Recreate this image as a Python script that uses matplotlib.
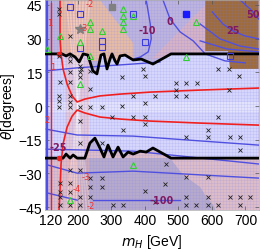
import numpy as np
import matplotlib.pyplot as plt

# axis ranges / ticks
m_lim = (102, 739)
theta_lim = (-46.3, 47.2)
m_ticks = [120, 200, 300, 400, 500, 600, 700]
theta_ticks = [-45, -30, -15, 0, 15, 30, 45]

# black boundaries (upper and lower)
top_bound_m = [102, 153, 165, 177, 192, 204, 216, 230, 245, 257, 269, 278, 287, 296,
               302, 311, 317, 326, 341, 365, 389, 424, 478, 739]
top_bound_t = [23.2, 23.2, 22.3, 23.2, 21.8, 19.6, 23.2, 22.7, 15.6, 14.3, 22.7, 23.2, 16.5, 20.9,
               23.2, 20.1, 18.7, 22.3, 22.7, 20.5, 20.9, 18.7, 23.2, 23.2]
bot_bound_m = [102, 156, 165, 177, 186, 198, 221, 236, 251, 266, 278, 290, 305, 320,
               335, 350, 365, 386, 404, 424, 478, 739]
bot_bound_t = [-23.2, -23.2, -21.4, -23.2, -21.8, -23.2, -23.2, -16.5, -14.3, -18.7, -22.7, -17.4,
               -22.7, -18.3, -22.7, -20.5, -21.4, -20.1, -20.5, -18.7, -23.2, -23.2]

# shaded regions
peach_top_m = [147, 266, 365, 365, 147]
peach_top_t = [47.2, 47.2, 28.0, 20.0, 20.0]
pink_wedge_m = [420, 580, 580]
pink_wedge_t = [21.0, 24.0, 45.0]
brown_m = [580, 739, 739, 654, 648, 580]
brown_t = [47.2, 47.2, 16.5, 16.5, 24.5, 24.5]
grey_bot_m = [198, 475, 514, 565, 580, 604, 610, 198]
grey_bot_t = [-23.2, -23.2, -30.7, -36.1, -39.7, -44.1, -46.3, -46.3]
fan_end_m = [165, 175, 186, 196, 206, 216, 226, 236]

# red contours
red_up_m = [147, 147, 147, 150, 156, 168, 183, 198, 221, 266, 326, 416, 565, 739]
red_up_t = [47.2, 38.8, 29.9, 23.2, 16.5, 9.8, 4.5, 1.8, 3.1, 4.5, 5.3, 6.2, 7.1, 8.0]
red_lo_m = [144, 147, 150, 156, 168, 183, 198, 221, 266, 326, 416, 565, 739]
red_lo_t = [-46.3, -37.0, -25.8, -16.9, -9.4, -4.5, -1.8, -3.1, -4.9, -5.8, -6.7, -7.6, -8.5]
red_vert_m = [119, 119]
red_vert_t = [46.0, -46.3]
red_dot_m = [144, 144]
red_dot_t = [23.2, -23.2]

# blue contours
blue_lines = [
    ([102, 198, 365, 445], [15.6, 17.0, 18.7, 19.6]),
    ([102, 198, 365, 739], [-10.2, -12.9, -13.4, -17.4]),
    ([102, 365, 739], [-19.2, -20.1, -25.8]),
    ([111, 198, 365, 739], [-26.3, -29.9, -29.0, -32.1]),
    ([111, 198], [-38.8, -41.9]),
    ([245, 505], [-41.9, -41.9]),
    ([404, 416, 419, 410, 386, 365], [47.2, 36.5, 29.9, 24.1, 21.8, 20.9]),
    ([454, 475, 505, 544, 580, 639, 699], [47.2, 38.8, 33.0, 29.0, 23.2, 20.1, 19.2]),
    ([601, 633, 663, 699, 739], [41.9, 36.5, 33.4, 31.2, 29.9]),
    ([565, 624, 684, 739], [36.5, 29.9, 26.7, 25.4]),
    ([565, 645, 739], [29.0, 25.4, 24.1]),
    ([684, 714, 739], [47.2, 43.2, 38.8]),
]
blue_edge_m = [108, 108]
blue_edge_t = [47.2, -46.3]

# scan points
cross_m = [144, 144, 177, 144, 177, 177, 207, 177, 207, 236, 207, 332, 147, 177, 210, 236,
           144, 177, 144, 177, 144, 177, 207, 236, 272, 332, 302, 207, 395, 401, 618, 651,
           681, 493, 523, 556, 493, 651, 365, 430, 493, 523, 401, 365, 401, 618, 401, 335,
           589, 523, 589, 654, 684, 684, 207, 272, 463, 177, 207, 523, 589, 236, 272, 147,
           177, 460, 236, 272, 401, 147, 177, 147, 207, 236, 523, 589, 654, 684, 714, 430,
           147, 177, 207, 305, 335, 523, 553, 589, 618, 684]
cross_t = [43.2, 41.0, 31.2, 22.3, 22.3, 20.1, 17.8, 15.2, 15.2, 15.6, 12.9, 12.9, 10.7, 10.7, 16.5, 7.6,
           4.5, 4.5, 2.2, 1.8, -0.4, -0.4, -0.4, -0.4, -0.4, 0.0, -4.9, -6.7, 16.5, 13.4, 16.5, 16.5,
           13.4, 10.2, 10.2, 10.2, 7.1, 7.1, 4.5, 4.5, 4.5, 4.5, 1.3, -4.9, -4.9, -4.9, -8.0, -10.7,
           -10.7, -13.8, -13.8, -13.8, -13.8, -19.6, -16.5, -16.5, -25.8, -28.5, -28.5, -31.6, -31.6, -32.1, -32.1, -34.3,
           -34.3, -34.8, -36.1, -36.1, -37.9, -38.3, -38.3, -40.6, -40.6, -40.6, -40.6, -40.6, -40.6, -40.6, -40.6, -42.8,
           -44.1, -44.1, -44.1, -44.1, -44.1, -44.1, -44.1, -44.1, -44.1, -44.1]
square_m = [177, 207, 272, 272, 207, 365, 401, 654]
square_t = [44.1, 41.0, 29.0, 26.3, 25.8, 41.0, 28.5, 22.3]
tri_m = [147, 207, 236, 236, 272, 236, 207, 335, 335, 335, 335, 365, 553, 523, 177, 365, 108]
tri_t = [31.2, 28.5, 37.4, 34.3, 33.4, 22.3, 9.8, 43.2, 40.1, 37.4, 34.3, 40.1, 37.4, 21.8, -41.9, -26.3, 25.4]
bluefill_m, bluefill_t = [523], [41.0]
greysq_m, greysq_t = [302], [44.1]
star_m, star_t = [207], [34.3]

# contour labels
red_lab = ['-2', '-3', '1', '1', '2', '-3', '-4', '-2']
red_lab_m = [236, 218, 117, 126, 108, 224, 198, 238]
red_lab_t = [45.5, 34.8, 37.0, 17.8, -5.8, -31.3, -36.6, -44.1]
mar_lab = ['-25', '-10', '0', '25', '50', '-100']
mar_lab_m = [141, 407, 475, 663, 723, 451]
mar_lab_t = [-18.3, 33.9, 37.9, 33.9, 41.0, -41.9]

fig = plt.figure(figsize=(2.66, 2.53), dpi=100)
ax = fig.add_axes([0.169, 0.166, 0.803, 0.830])
ax.set_facecolor('#bdb4de')

# background bands
ax.fill(peach_top_m, peach_top_t, color='#e6bba6', lw=0, zorder=0.2)
ax.fill(pink_wedge_m, pink_wedge_t, color='#d6b2c6', lw=0, zorder=0.2)
ax.axhspan(theta_lim[0], -20, color='#dcbcc8', lw=0, zorder=0.1)
ax.fill(grey_bot_m, grey_bot_t, color='#b6aacc', lw=0, zorder=0.3)
mid_m = top_bound_m + bot_bound_m[::-1]
mid_t = top_bound_t + bot_bound_t[::-1]
ax.fill(mid_m, mid_t, color='#d6d6fc', lw=0, zorder=0.5)
ax.fill(brown_m, brown_t, color='#9e6b3c', lw=0, zorder=0.6)
ax.axvspan(162, 232, color='#f6b0a0', alpha=0.35, lw=0, zorder=0.7)
ax.axvspan(m_lim[0], 119, color='#a8a0f0', alpha=0.3, lw=0, zorder=0.7)
ax.axhspan(-2.5, 2.0, color='white', alpha=0.3, lw=0, zorder=0.7)
for me in fan_end_m:
    ax.plot([200, me], [0, theta_lim[1]], color='white', alpha=0.3, lw=1, zorder=0.8)
    ax.plot([200, me], [0, theta_lim[0]], color='white', alpha=0.3, lw=1, zorder=0.8)

# fine grid texture
for gx in np.arange(m_lim[0], m_lim[1], 9):
    ax.axvline(gx, color='#8080e8', alpha=0.18, lw=0.5, zorder=0.9)
for gy in np.arange(theta_lim[0], theta_lim[1], 1.35):
    ax.axhline(gy, color='#8080e8', alpha=0.18, lw=0.5, zorder=0.9)

# contours
for bm, bt in blue_lines:
    ax.plot(bm, bt, color='#5050e0', lw=1.0, zorder=2)
ax.plot(blue_edge_m, blue_edge_t, color='#5050e0', lw=1.5, zorder=2)
ax.plot(red_up_m, red_up_t, color='#f02020', lw=1.2, zorder=2.5)
ax.plot(red_lo_m, red_lo_t, color='#f02020', lw=1.2, zorder=2.5)
ax.plot(red_vert_m, red_vert_t, color='#f02020', lw=1.0, zorder=2.5)
ax.plot(red_dot_m, red_dot_t, 'o', color='#f02020', ms=3, zorder=4.5)
ax.plot(top_bound_m, top_bound_t, color='black', lw=2, zorder=4)
ax.plot(bot_bound_m, bot_bound_t, color='black', lw=2, zorder=4)

# points
ax.plot(cross_m, cross_t, 'x', color='#222222', ms=2.2, mew=0.6, zorder=5)
ax.plot(square_m, square_t, 's', mfc='none', mec='#3a3ae0', ms=4, mew=0.8, zorder=5)
ax.plot(tri_m, tri_t, '^', mfc='none', mec='#30d030', ms=4.5, mew=0.8, zorder=5)
ax.plot(bluefill_m, bluefill_t, 's', color='#1a1aff', ms=4, zorder=5)
ax.plot(greysq_m, greysq_t, 's', color='#808080', ms=4, zorder=5)
ax.plot(star_m, star_t, '*', color='#808080', ms=7, zorder=5)

for s, xm, yt in zip(red_lab, red_lab_m, red_lab_t):
    ax.text(xm, yt, s, color='#f03030', fontsize=6, ha='center', va='center', zorder=6)
for s, xm, yt in zip(mar_lab, mar_lab_m, mar_lab_t):
    ax.text(xm, yt, s, color='#801a60', fontsize=7, fontweight='bold', ha='center', va='center', zorder=6)

ax.set_xlim(*m_lim)
ax.set_ylim(*theta_lim)
ax.set_xticks(m_ticks)
ax.set_yticks(theta_ticks)
ax.tick_params(direction='in', length=3, width=0.5, color='#555555', top=True, right=True,
               labelsize=10, pad=2)
for lab in ax.get_xticklabels() + ax.get_yticklabels():
    lab.set_family('Liberation Sans')
for sp in ax.spines.values():
    sp.set_color('#aaaaaa')
    sp.set_linewidth(0.5)
ax.set_xlabel('$m_H$ [GeV]', fontsize=10, family='Liberation Sans', labelpad=4)
ax.set_ylabel(r'$\theta$[degrees]', fontsize=10, family='Liberation Sans', labelpad=1)

fig.savefig('out.png', dpi=100)
